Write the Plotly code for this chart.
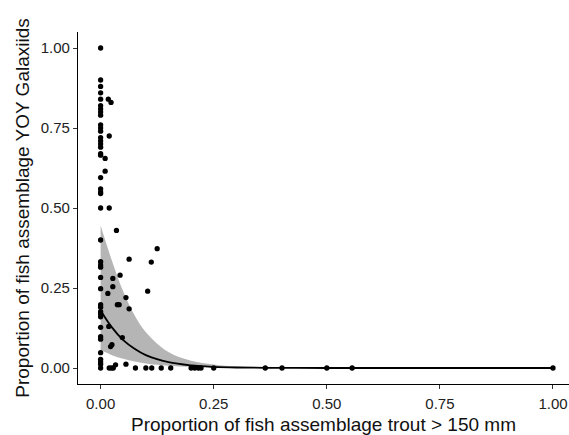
import plotly.graph_objects as go

# ---- observed points ----
x_points = [0.0]*42 + [
    0.017, 0.023, 0.019, 0.010, 0.010, 0.019, 0.035, 0.125, 0.063, 0.112,
    0.043, 0.027, 0.027, 0.016, 0.104, 0.056, 0.037, 0.041, 0.063, 0.018,
    0.048, 0.022, 0.025, 0.056, 0.033,
    0.019, 0.024, 0.028, 0.077, 0.100, 0.113, 0.134, 0.155, 0.200, 0.208,
    0.216, 0.222, 0.250, 0.364, 0.401, 0.500, 0.556, 1.000]
y_points = [
    1.00, 0.90, 0.88, 0.86, 0.84, 0.82, 0.81, 0.80, 0.79, 0.76,
    0.75, 0.74, 0.72, 0.71, 0.70, 0.69, 0.67, 0.665, 0.595, 0.56,
    0.55, 0.545, 0.50, 0.40, 0.332, 0.322, 0.315, 0.283, 0.248, 0.198,
    0.19, 0.176, 0.169, 0.16, 0.127, 0.098, 0.09, 0.048, 0.027, 0.019,
    0.012, 0.0,
    0.84, 0.83, 0.725, 0.655, 0.615, 0.50, 0.43, 0.373, 0.34, 0.331,
    0.29, 0.28, 0.254, 0.233, 0.24, 0.22, 0.198, 0.198, 0.185, 0.13,
    0.095, 0.067, 0.073, 0.012, 0.01,
    0.0, 0.0, 0.0, 0.0, 0.0, 0.0, 0.0, 0.0, 0.0, 0.0,
    0.0, 0.0, 0.0, 0.0, 0.0, 0.0, 0.0, 0.0]

# ---- fitted curve and confidence band ----
fit_x = [0.0, 0.025, 0.05, 0.075, 0.1, 0.15, 0.2, 0.25, 0.3, 0.4, 0.5, 0.75, 1.0]
fit_y = [0.18, 0.127, 0.087, 0.060, 0.040, 0.018, 0.008, 0.0035, 0.0015, 0.0003, 0.0, 0.0, 0.0]
fit_upper = [0.445, 0.335, 0.239, 0.165, 0.112, 0.050, 0.023, 0.011, 0.005, 0.001, 0.0, 0.0, 0.0]
fit_lower = [0.056, 0.040, 0.029, 0.020, 0.014, 0.007, 0.0036, 0.0018, 0.0009, 0.0002, 0.0, 0.0, 0.0]

tick_vals = [0.0, 0.25, 0.5, 0.75, 1.0]
tick_text = ["0.00", "0.25", "0.50", "0.75", "1.00"]

FONT = "Liberation Sans, Arial"

fig = go.Figure()
fig.add_trace(go.Scatter(
    x=fit_x + fit_x[::-1], y=fit_upper + fit_lower[::-1],
    fill="toself", fillcolor="#b5b5b5", line=dict(width=0),
    mode="lines", line_shape="spline", hoverinfo="skip", showlegend=False))
fig.add_trace(go.Scatter(
    x=x_points, y=y_points, mode="markers",
    marker=dict(color="black", size=5.3), showlegend=False))
fig.add_trace(go.Scatter(
    x=fit_x, y=fit_y, mode="lines", line_shape="spline",
    line=dict(color="black", width=1.8), showlegend=False))

axis_common = dict(
    showgrid=False, zeroline=False, showline=True, linecolor="black",
    linewidth=1.2, ticks="outside", ticklen=4, tickcolor="#333333",
    tickwidth=1, tickvals=tick_vals, ticktext=tick_text,
    tickfont=dict(family=FONT, size=15, color="#222222"),
)
fig.update_xaxes(range=[-0.05, 1.0354], ticklabelstandoff=2, title=dict(
    text="Proportion of fish assemblage trout > 150 mm",
    font=dict(family=FONT, size=19, color="#111111"),
    standoff=8), **axis_common)
fig.update_yaxes(range=[-0.05, 1.05], title=dict(
    text="Proportion of fish assemblage YOY Galaxiids",
    font=dict(family=FONT, size=19, color="#111111"),
    standoff=6), **axis_common)

fig.update_layout(
    width=569, height=435,
    margin=dict(l=78, r=0, t=32, b=51, autoexpand=False),
    plot_bgcolor="white", paper_bgcolor="white",
)
fig.write_html("out.html")
